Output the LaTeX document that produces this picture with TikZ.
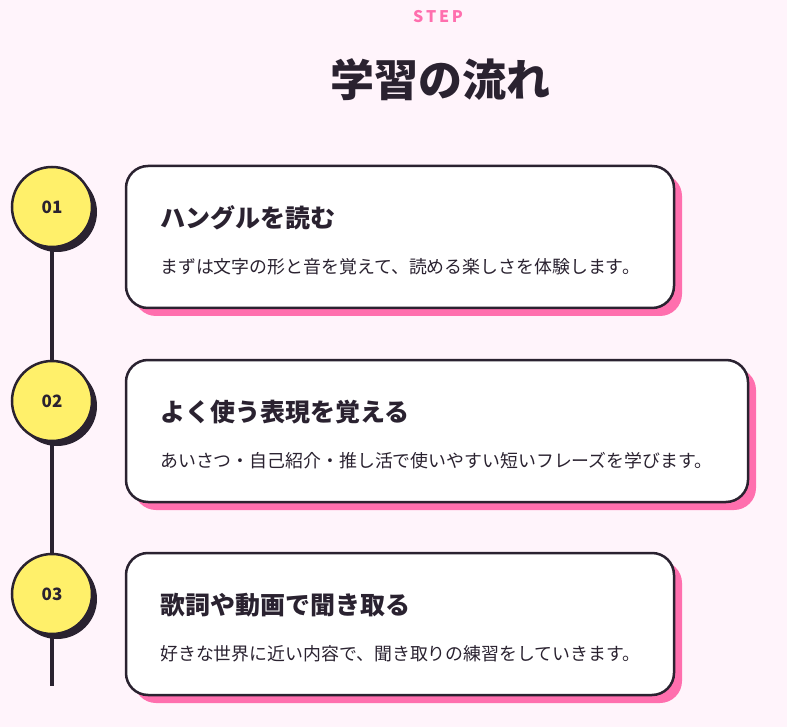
\documentclass[tikz,border=0pt]{standalone}
\usepackage{fontspec}
\setmainfont{Noto Sans CJK JP}
\definecolor{bg}{HTML}{FFF4FB}
\definecolor{pk}{HTML}{FF6FAE}
\definecolor{dk}{HTML}{2A2230}
\definecolor{yl}{HTML}{FFF06A}
\begin{document}
\begin{tikzpicture}[x=1pt,y=-1pt,
  card/.style={draw=dk,line width=2.5pt,fill=white,rounded corners=22pt},
  shad/.style={fill=pk,rounded corners=22pt},
  num/.style={circle,draw=dk,line width=2.5pt,fill=yl,minimum size=80pt,inner sep=0pt,font=\bfseries\fontsize{17}{17}\selectfont,text=dk},
  numsh/.style={circle,fill=dk,minimum size=80pt,inner sep=0pt},
  ttl/.style={anchor=west,font=\bfseries\fontsize{25}{25}\selectfont,text=dk,inner sep=0pt},
  bdy/.style={anchor=west,font=\fontsize{17.9}{17.9}\selectfont,text=dk,inner sep=0pt}]
\fill[bg] (0,0) rectangle (787,727);
\node[font=\bfseries\fontsize{16}{16}\selectfont,text=pk] (step) at (438,17) {S\,T\,E\,P};
\node[font=\bfseries\fontsize{44}{44}\selectfont,text=dk] (head) at (440,80) {学習の流れ};
\coordinate (lt) at (52,207);
\coordinate (lb) at (52,686);
\draw[dk,line width=4pt] (lt) -- (lb);
\foreach \y/\r/\n/\t/\b in {166/674/01/ハングルを読む/まずは文字の形と音を覚えて、読める楽しさを体験します。,
  360/748/02/よく使う表現を覚える/あいさつ・自己紹介・推し活で使いやすい短いフレーズを学びます。,
  553/674/03/歌詞や動画で聞き取る/好きな世界に近い内容で、聞き取りの練習をしていきます。}{
  \fill[shad] (134,\y+8) rectangle (\r+8,\y+150);
  \draw[card] (126,\y) rectangle (\r,\y+142);
  \node[numsh] (s\n) at (57,\y+46) {};
  \node[num] (c\n) at (52,\y+41) {\n};
  \node[ttl] (t\n) at (160,\y+52) {\t};
  \node[bdy] (b\n) at (160,\y+101) {\b};
}
\end{tikzpicture}
\end{document}
